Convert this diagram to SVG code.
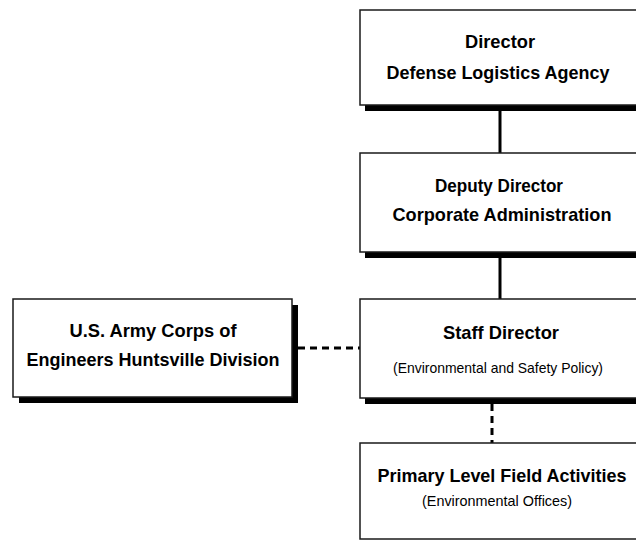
<svg xmlns="http://www.w3.org/2000/svg" width="636" height="541" viewBox="0 0 636 541">
<style>
.shadow{fill:#000}
.box{fill:#fff;stroke:#1a1a1a;stroke-width:1.5}
.t{font-family:"Liberation Sans",Arial,sans-serif;font-weight:bold;font-size:19px;fill:#000;text-anchor:middle}
.s{font-family:"Liberation Sans",Arial,sans-serif;font-size:15px;fill:#000;text-anchor:middle}
.solid{stroke:#000;stroke-width:3;fill:none}
.dash{stroke:#000;stroke-width:3;fill:none;stroke-dasharray:7 5}
</style>
<rect width="636" height="541" fill="#fff"/>
<g id="connectors">
<line class="solid" x1="500" y1="110" x2="500" y2="153"/>
<line class="solid" x1="500" y1="256" x2="500" y2="299"/>
<line class="dash" x1="492" y1="404" x2="492" y2="443"/>
<line class="dash" x1="298" y1="348" x2="360" y2="348"/>
</g>
<g id="director">
<rect class="shadow" x="365" y="15" width="280" height="96"/>
<rect class="box" x="360" y="10" width="280" height="95"/>
<text class="t" x="500" y="48" textLength="70" lengthAdjust="spacingAndGlyphs">Director</text>
<text class="t" x="498" y="79" textLength="223" lengthAdjust="spacingAndGlyphs">Defense Logistics Agency</text>
</g>
<g id="deputy">
<rect class="shadow" x="365" y="158" width="280" height="100"/>
<rect class="box" x="360" y="153" width="280" height="99"/>
<text class="t" x="499" y="192" textLength="128" lengthAdjust="spacingAndGlyphs">Deputy Director</text>
<text class="t" x="502" y="221" textLength="219" lengthAdjust="spacingAndGlyphs">Corporate Administration</text>
</g>
<g id="staff">
<rect class="shadow" x="365" y="304" width="280" height="100"/>
<rect class="box" x="360" y="299" width="280" height="99"/>
<text class="t" x="501" y="339" textLength="116" lengthAdjust="spacingAndGlyphs">Staff Director</text>
<text class="s" x="498" y="373" textLength="210" lengthAdjust="spacingAndGlyphs">(Environmental and Safety Policy)</text>
</g>
<g id="corps">
<rect class="shadow" x="19" y="305" width="279" height="98"/>
<rect class="box" x="13" y="299" width="279" height="98"/>
<text class="t" x="153" y="337" textLength="167" lengthAdjust="spacingAndGlyphs">U.S. Army Corps of</text>
<text class="t" x="153" y="366" textLength="253" lengthAdjust="spacingAndGlyphs">Engineers Huntsville Division</text>
</g>
<g id="field">
<rect class="box" x="360" y="443" width="280" height="96"/>
<text class="t" x="502" y="482" textLength="249" lengthAdjust="spacingAndGlyphs">Primary Level Field Activities</text>
<text class="s" x="497" y="506" textLength="150" lengthAdjust="spacingAndGlyphs">(Environmental Offices)</text>
</g>
</svg>
